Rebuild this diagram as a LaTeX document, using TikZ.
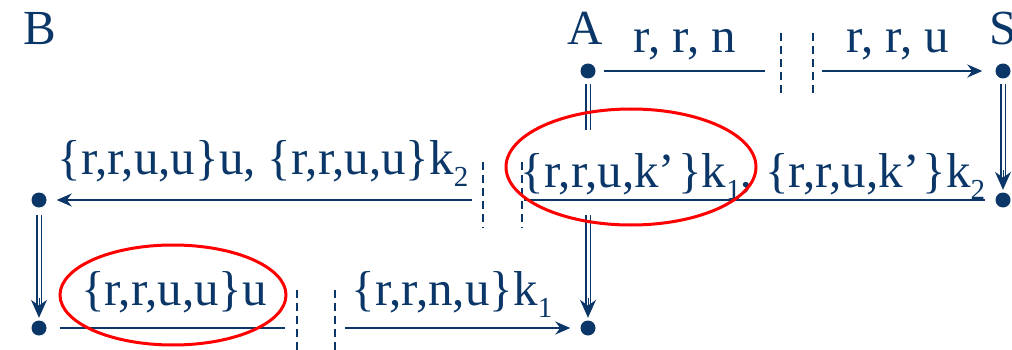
\documentclass[tikz,border=0pt]{standalone}
\usepackage{fontspec}
\setmainfont{Liberation Serif}
\usetikzlibrary{arrows.meta,calc}
\definecolor{navy}{HTML}{0B3768}
\newcommand{\sbs}[1]{\raisebox{-12pt}{\fontsize{29}{29}\selectfont #1}}
\newcommand{\kq}{k’\hspace{3pt}}
\begin{document}
\begin{tikzpicture}[x=1pt,y=1pt,
 lbl/.style={text=navy,font=\fontsize{49}{58}\selectfont,inner sep=0pt,anchor=base},
 dot/.style={circle,fill=navy,minimum size=15pt,inner sep=0pt},
 arr/.style={draw=navy,line width=2pt,-{Stealth[length=15pt,width=13pt]}},
 ln/.style={draw=navy,line width=2pt},
 dsh/.style={draw=navy,line width=1.8pt,dash pattern=on 8pt off 5pt},
 dbl/.style={draw=navy,line width=1.6pt,double=white,double distance=3pt},
 hd/.style={draw=navy,line width=1pt,-{Stealth[length=18pt,width=16pt]}},
 ring/.style={draw=red,line width=3pt}]
\useasboundingbox (0,0) rectangle (1012,-350);
% dots
\node[dot] (A) at (588,-71) {};
\node[dot] (S) at (1003,-71) {};
\node[dot] (Lm) at (39,-200) {};
\node[dot] (Rm) at (1003,-200) {};
\node[dot] (Lb) at (39,-328) {};
\node[dot] (Rb) at (588,-328) {};
% labels
\node[lbl] (lB) at (40,-45) {B};
\node[lbl] (lA) at (585,-45) {A};
\node[lbl,anchor=base west] (lS) at (989,-45) {S};
\node[lbl] (t1) at (685,-53) {r, r, n};
\node[lbl] (t2) at (898,-53) {r, r, u};
\node[lbl] (t3) at (263,-175) {\{r,r,u,u\}u, \{r,r,u,u\}k\sbs{2}};
\node[lbl] (t4) at (753,-187) {\{r,r,u,\kq\}k\sbs{1}, \{r,r,u,\kq\}k\sbs{2}};
\node[lbl] (t5) at (174,-305) {\{r,r,u,u\}u};
\node[lbl] (t6) at (452,-305) {\{r,r,n,u\}k\sbs{1}};
% coordinates
\coordinate (c1) at (765,-71);
\coordinate (c2) at (822,-71);
\coordinate (c3) at (472,-200);
\coordinate (c4) at (524,-200);
\coordinate (c5) at (285,-328);
\coordinate (c6) at (345,-328);
\coordinate (a1) at (588,-130);
\coordinate (a2) at (588,-215);
\coordinate (b1) at (39,-215);
% top row
\draw[ln,shorten <=8pt] (A) -- (c1);
\draw[arr,shorten >=13pt] (c2) -- (S);
\draw[dsh] (781,-33) -- (781,-97);
\draw[dsh] (813,-33) -- (813,-97);
% middle row
\draw[arr,shorten >=10pt] (c3) -- (Lm);
\draw[ln,shorten >=10pt] (c4) -- (Rm);
\draw[dsh] (483,-162) -- (483,-228);
\draw[dsh] (522,-162) -- (522,-228);
% bottom row
\draw[ln,shorten <=13pt] (Lb) -- (c5);
\draw[arr,shorten >=10pt] (c6) -- (Rb);
\draw[dsh] (297,-290) -- (297,-352);
\draw[dsh] (335,-290) -- (335,-352);
% double arrows
\draw[dbl,shorten <=5pt] (A) -- (a1);
\draw[dbl,shorten >=13pt] (a2) -- (Rb.north);
\draw[hd,shorten >=2.5pt] ($(Rb.north)+(0,22)$) -- (Rb.north);
\draw[dbl,shorten <=5pt,shorten >=13pt] (S) -- (Rm.north);
\draw[hd,shorten >=2.5pt] ($(Rm.north)+(0,22)$) -- (Rm.north);
\draw[dbl,shorten >=13pt] (b1) -- (Lb.north);
\draw[hd,shorten >=2.5pt] ($(Lb.north)+(0,22)$) -- (Lb.north);
% red ellipses
\draw[ring] (631,-167) ellipse [x radius=125, y radius=58];
\draw[ring] (173,-295) ellipse [x radius=113, y radius=50];
\end{tikzpicture}
\end{document}
